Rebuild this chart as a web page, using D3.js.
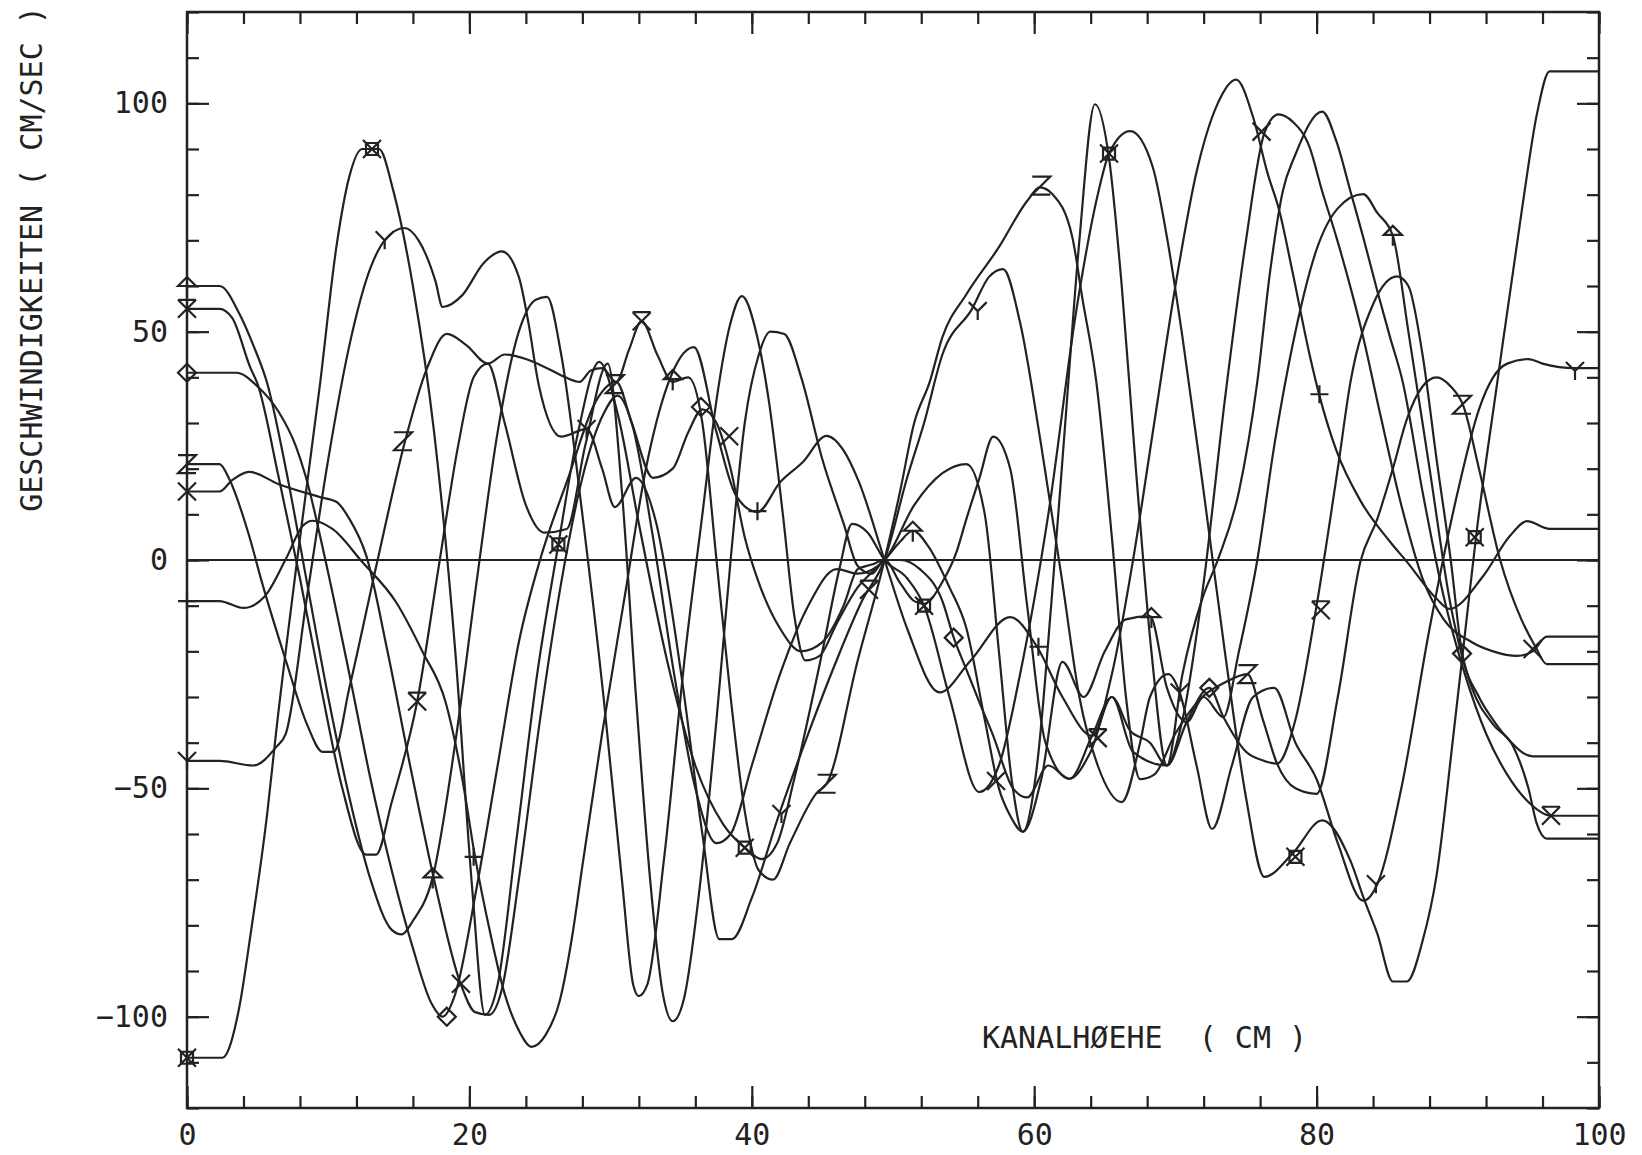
<!DOCTYPE html>
<html>
  <head>
    <meta charset="utf-8">
    <title>Geschwindigkeiten</title>
    <style>
      body { margin: 0; background: #fff; }
      text { font-family: "DejaVu Sans Mono", monospace; fill: #222; }
    </style>
  </head>
  <body>
    <script src="https://cdn.jsdelivr.net/npm/d3@7"></script>
    <script>
      const width = 1642;
      const height = 1155;

      // axis ticks
      const xMinor = d3.range(0, 101, 4);
      const xMajor = [0, 20, 40, 60, 80, 100];
      const yMinor = d3.range(-120, 121, 10);
      const yMajor = [-100, -50, 0, 50, 100];

      // curves: [kanalhoehe, geschwindigkeit]
      const curveSq = [[0,-109],[2.5,-109],[3.7,-98],[4.5,-82],[5.7,-55],[6.3,-38],[7.8,0],[9.4,38],[10.6,69],[11.5,84],[12.4,90],[13.6,90],[14.6,81],[16,60],[17.5,28],[19,-20],[20.2,-72],[21.1,-99.6],[22,-93],[23.3,-62],[24.8,-25],[26.3,3.4],[27.7,28],[29.2,43.4],[30.5,32],[32,8],[34,-22],[36,-45],[38,-58],[39.5,-63],[40.7,-65.5],[41.8,-62],[43,-48],[45,-20],[46.2,-2],[47.1,7.9],[48.2,6],[49.4,0],[51,-4],[52.2,-10],[54,-30],[56.1,-50.8],[57.5,-45],[59,-25],[61,10],[63,55],[64.5,80],[65.3,89],[66.8,93.9],[68.4,86],[69.4,70.7],[70.5,48.8],[72,15],[73.5,-20],[75,-52],[76.3,-69.4],[78.3,-64.3],[80.4,-57],[82.4,-65.9],[83.4,-74.6],[84.3,-81.8],[85.4,-92.3],[86.4,-92.3],[87.5,-83.5],[88.5,-69],[89.7,-38],[90.6,-13.6],[91.3,5.3],[92.8,39],[94.6,78],[95.6,97.6],[96.5,107],[100,107]];
      const curveY = [[0,-44],[2.3,-44],[4.7,-45],[6.3,-41],[7,-38],[8.5,-8],[10,22],[11.5,47],[13,64],[14,70],[15.4,72.7],[16.4,70],[17.6,61],[18.1,55.4],[19.5,58],[21,65],[22.3,67.6],[23.5,62],[24.2,51.6],[24.9,38.5],[26.5,27],[28.3,28.7],[29.4,20],[30.3,11.6],[31.8,18],[33.2,8.5],[35,-25],[36.5,-60],[37.7,-83],[38.6,-83],[40,-74],[41.9,-56],[44,-38],[46,-22],[47.8,-9],[49.4,0],[51,18],[52.2,30],[53.5,45],[55.6,55],[56.8,62],[57.8,63.7],[59,52],[60.5,25],[62,-5],[63.2,-30],[64.5,-45],[66.2,-53],[67.5,-40],[68.2,-30],[69.5,-25],[70.3,-29],[71.5,-45],[72.6,-58.9],[74,-45],[75.5,-30],[77,-28],[78.5,-40],[80,-48],[81.5,-62],[83.3,-74.6],[84.3,-71],[86,-50],[88,-15],[90,15],[91.5,33],[92.5,40],[93.5,43],[95,44],[96,43],[98.3,42],[100,42]];
      const curveZ = [[0,21],[2.3,21],[3,17.7],[4.4,5.3],[5.3,-4.8],[7,-22],[8.5,-36],[9.6,-42],[10.4,-42],[11.5,-28],[13.5,0],[15.4,25.5],[17,42],[18.4,49.5],[19.8,47],[21.3,43],[22.5,45],[24,44],[25.5,42],[26.8,40],[27.8,39],[28.6,41.5],[29.4,42],[30.4,39],[31.3,46],[32.2,52.3],[33.3,45],[34.4,39],[35.5,40],[36.5,30],[37.5,0],[38.5,-30],[39.5,-55],[40.5,-68],[41.5,-70],[42.7,-62],[44.6,-51],[45.3,-49],[47.5,-22],[49.4,0],[50.5,15],[51.5,30],[52.6,39],[53.5,48.8],[55.2,58.2],[57.5,68.5],[59.5,78.6],[60.4,81.6],[61.3,80.1],[62.7,70.7],[63.4,57.5],[64.4,39],[65.5,5],[66.5,-30],[67.5,-48],[68.5,-47],[70,-38],[71.9,-30],[73.4,-27],[75.1,-25],[76.2,-35],[77.2,-44.6],[78.5,-50],[80,-51.2],[81.5,-30],[83.1,-0.4],[84.3,9],[85.4,20],[86.4,30.9],[87.5,38],[88.5,40],[89.5,38],[90.4,33.7],[91.5,20],[93,0],[94.5,-13],[95.5,-19],[96.3,-22.8],[100,-22.8]];
      const curveXbar = [[0,55],[2.3,55],[3.2,53],[4.5,42],[5,38.5],[6.5,18],[8,-4],[9.5,-28],[11,-50],[12.7,-64.5],[13.4,-64.5],[14.5,-53],[16.3,-31],[17.8,-2],[19.2,25],[20.3,40],[21.3,43],[22.5,30],[24,12],[25.3,6],[26.9,6.8],[28.2,25],[29.8,43],[30.8,15],[31.8,-30],[32.8,-70],[33.7,-95],[34.4,-101],[35.2,-96],[36.3,-72],[37.5,-35],[38.5,0],[39.5,30],[40.5,45],[41.3,50],[42.3,49.5],[43.5,40],[45,22],[46.5,8],[47.5,-1.3],[48.5,-3],[49.4,0],[50.5,-5],[51.5,-9],[52.2,-9.6],[53.5,-4.8],[54.5,1.8],[55.2,9],[56.1,17.7],[57.1,27],[58.3,20],[59.5,-10],[60.8,-40],[62.5,-47.9],[64.1,-38.5],[65.5,-30],[67,-42],[69.4,-45],[70.5,-25],[71.9,-8.5],[73,0],[74.5,15],[75.8,39],[76.7,63],[77.6,80.7],[78.5,88.8],[80.4,98.2],[81.4,91.7],[82.4,80.7],[83.3,70.7],[84.3,58.9],[85.2,48.8],[86.1,39],[87.5,15],[89,-8],[90.5,-25],[92,-38],[93.5,-47],[95,-53],[96.6,-56],[100,-56]];
      const curveArrow = [[0,60],[2.3,60],[3.7,54],[4.7,47],[5.7,38.5],[7,20],[8.5,-5],[10,-30],[11.5,-52],[13,-70],[14.5,-81],[15.2,-82],[16,-79],[17.4,-69.5],[19,-40],[20.5,-5],[22,28],[23.5,50],[24.7,57],[25.5,57.6],[26.5,45],[28,10],[29.5,-30],[30.8,-70],[31.6,-93],[32,-95.5],[32.6,-93],[33.8,-65],[35.3,-20],[36.5,10],[37.5,35],[38.5,52],[39.3,57.8],[40.3,50],[41.2,35],[42.2,10],[43,-12],[43.8,-22],[44.8,-21],[46,-14],[47.5,-6],[48.4,-3],[49.4,0],[50.5,4],[51.4,6.4],[52.5,3],[54,-6],[55.2,-15],[56.5,-35],[57.5,-50],[58.3,-56],[59.2,-59.5],[60.5,-48],[62,-22.3],[63.5,-30],[65,-20],[66.5,-13],[68.2,-12.3],[69.4,-28],[70.8,-35.5],[72,-30],[73.4,-34.4],[74.5,-20],[75.8,0],[77,25],[78.5,50],[80,68],[81.5,77],[83.3,80.1],[84.3,76],[85.4,71],[86.5,50],[88,20],[89.5,-10],[91,-28],[92.5,-36],[93.9,-40.7],[95,-50],[95.6,-57.8],[96.3,-61],[100,-61]];
      const curveDiamond = [[0,41],[3.5,41],[5,38],[6.5,32.4],[7.7,25],[8.4,18.4],[9.8,0],[11.5,-25],[13,-48],[14.5,-68],[16,-85],[17.3,-97],[18.1,-100],[19,-95],[20.5,-72],[22,-45],[23.5,-18],[25,0],[27,18],[29,35],[30.4,39],[31.5,30],[33,18],[34.4,20],[35.5,28],[36.5,33],[37.5,30],[38.5,20],[39.5,5],[40.5,-5],[42,-15],[43.5,-20],[45,-18],[46.5,-10],[47.5,-2],[48.5,-1],[49.4,0],[50.5,0],[51.9,-2],[53.5,-9],[54.3,-17],[55.2,-24],[56.1,-31],[57.1,-38.5],[58.5,-50],[59.5,-52],[61,-45],[62.5,-47.9],[64,-42],[65.5,-30],[66.8,-37.4],[68.2,-40],[69.4,-45],[70.8,-35.5],[72.4,-28],[73.4,-34.4],[75,-42],[76.3,-44],[77.2,-44.6],[78.5,-35],[80,-10],[81.5,20],[82.4,39],[84,56],[85.7,62.1],[86.5,60],[87.5,45],[88.5,22],[89.5,0],[90.3,-20.3],[91.5,-30],[92.5,-35],[93.5,-39],[95.3,-43],[100,-43]];
      const curveX = [[0,15],[2.3,15],[3.2,17.5],[4.4,19.3],[6.5,16.6],[9.4,13.8],[10.6,12.7],[11.5,9],[12.7,0.9],[14.2,-20],[15.8,-45],[17.5,-70],[19.4,-93],[20.4,-99],[21.4,-99.6],[22.3,-94],[23.5,-70],[25,-35],[26.5,-5],[28,18],[29.5,32],[30.5,36],[31.5,30],[33,5],[34.5,-25],[36,-50],[37.5,-62],[38.5,-60],[40,-45],[42,-25],[44,-10],[46,-2],[47.5,-3],[49.4,0],[51.5,12],[53.5,19],[55.2,21],[56.5,10],[57.5,-20],[58.4,-48],[59.2,-59.5],[60.2,-45],[61.2,-10],[62.2,30],[63.2,70],[64.3,99.8],[65.3,88],[66.2,60],[67.2,20],[68.3,-20],[69.4,-45],[70.5,-35],[72,-5],[73.5,35],[75,70],[76.3,93.5],[77.3,97.6],[78.3,96],[79.5,90.4],[80.4,80.7],[81.4,70.7],[82.4,59.7],[83.3,48.8],[84.5,32],[86,12],[87.5,-4],[89,-13],[91,-18],[92.5,-20],[94.2,-21],[95.3,-20],[96.3,-16.8],[100,-16.8]];
      const curvePlus = [[0,-9],[2.3,-9],[4,-10.5],[5.5,-8],[7,0.2],[8.2,7.5],[8.9,8.6],[10.3,6.8],[12.4,-0.4],[14.8,-9.2],[16.7,-20.2],[18.3,-31],[19.5,-48],[20.4,-65],[21.5,-82],[22.5,-95],[23.5,-103],[24.4,-106.6],[25.4,-104],[26.4,-96.5],[27.3,-82],[28,-67],[29.4,-38],[31,-8],[32.5,20],[34,38],[35.9,46.6],[37.5,28],[38.9,14],[40.4,10.5],[42,17],[43.6,21.4],[45.3,27.2],[46.5,24],[47.6,17],[49.4,0],[51,-15],[53.3,-29],[55.5,-22],[58.3,-12.5],[60.2,-19],[62,-30],[64.1,-38.5],[65.5,-25],[67,0],[68.5,30],[70,60],[71.5,85],[73,100],[74.3,105.2],[75.5,97],[76.5,85],[77.4,76],[78.3,63],[79.5,45],[80.2,36],[81.4,24],[83.1,13],[85.2,4],[86.4,-0.4],[88.5,-8.5],[89.4,-10.7],[91.8,-3.5],[93.7,5.3],[94.9,8.5],[96.5,6.8],[100,6.8]];

      // plot symbols as drawn on the sheet
      const marksSq = [[0,-109],[13.1,90],[26.3,3.4],[39.5,-63],[52.2,-10],[65.3,89],[78.5,-65],[91.2,5]];
      const marksY = [[0,-44],[14,70],[28.3,28.7],[42.1,-55.6],[56,54.5],[70.3,-29],[84.2,-71],[98.3,41.4]];
      const marksZ = [[0,21],[15.3,26],[30.3,38.5],[45.3,-49],[60.5,82],[75.1,-25],[90.3,34]];
      const marksXbar = [[0,55],[16.3,-31],[32.2,52.3],[48.3,-6.5],[64.5,-39],[80.3,-11],[96.6,-56]];
      const marksArrow = [[0,60],[17.4,-69.5],[34.4,39.6],[51.4,6.4],[68.3,-12.5],[85.4,71.2]];
      const marksDiamond = [[0,41],[18.4,-100],[36.4,33.5],[54.3,-17],[72.4,-28],[90.3,-20.5]];
      const marksX = [[0,15],[19.4,-92.8],[38.4,27.1],[57.3,-48.4],[76.1,93.8],[95.3,-19.5]];
      const marksPlus = [[0,-9],[20.3,-65],[40.4,10.7],[60.3,-19],[80.2,36.3]];

      const svg = d3
        .select('body')
        .append('svg')
        .attr('width', width)
        .attr('height', height);

      const x = d3.scaleLinear().domain([0, 100]).range([187, 1599]);
      const y = d3.scaleLinear().domain([-120, 120]).range([1108, 12]);

      function styleAxis(g) {
        g.select('.domain').remove();
        g.selectAll('.tick line').attr('stroke', '#222').attr('stroke-width', 2.2);
        g.attr('font-size', 30).attr('font-family', '"DejaVu Sans Mono", monospace');
      }

      // ticks point inward on all four sides
      svg.append('g').attr('transform', `translate(0,${y(-120)})`)
        .call(d3.axisBottom(x).tickValues(xMinor).tickSize(-12).tickFormat(''))
        .call(styleAxis);
      svg.append('g').attr('transform', `translate(0,${y(-120)})`)
        .call(d3.axisBottom(x).tickValues(xMajor).tickSize(-22).tickPadding(16).tickFormat(d3.format('d')))
        .call(styleAxis);
      svg.append('g').attr('transform', `translate(0,${y(120)})`)
        .call(d3.axisTop(x).tickValues(xMinor).tickSize(-12).tickFormat(''))
        .call(styleAxis);
      svg.append('g').attr('transform', `translate(0,${y(120)})`)
        .call(d3.axisTop(x).tickValues(xMajor).tickSize(-22).tickFormat(''))
        .call(styleAxis);
      svg.append('g').attr('transform', `translate(${x(0)},0)`)
        .call(d3.axisLeft(y).tickValues(yMinor).tickSize(-12).tickFormat(''))
        .call(styleAxis);
      svg.append('g').attr('transform', `translate(${x(0)},0)`)
        .call(d3.axisLeft(y).tickValues(yMajor).tickSize(-22).tickPadding(19).tickFormat(d3.format('d')))
        .call(styleAxis);
      svg.append('g').attr('transform', `translate(${x(100)},0)`)
        .call(d3.axisRight(y).tickValues(yMinor).tickSize(-12).tickFormat(''))
        .call(styleAxis);
      svg.append('g').attr('transform', `translate(${x(100)},0)`)
        .call(d3.axisRight(y).tickValues(yMajor).tickSize(-22).tickFormat(''))
        .call(styleAxis);

      svg.append('rect')
        .attr('x', x(0)).attr('y', y(120))
        .attr('width', x(100) - x(0)).attr('height', y(-120) - y(120))
        .attr('fill', 'none').attr('stroke', '#222').attr('stroke-width', 2.5);

      svg.append('line')
        .attr('x1', x(0)).attr('x2', x(100))
        .attr('y1', y(0)).attr('y2', y(0))
        .attr('stroke', '#222').attr('stroke-width', 2);

      const line = d3.line()
        .x((d) => x(d[0]))
        .y((d) => y(d[1]))
        .curve(d3.curveMonotoneX);

      const curves = [curveSq, curveY, curveZ, curveXbar, curveArrow, curveDiamond, curveX, curvePlus];
      svg.append('g')
        .selectAll('path')
        .data(curves)
        .enter()
        .append('path')
        .attr('d', line)
        .attr('fill', 'none')
        .attr('stroke', '#222')
        .attr('stroke-width', 2.2)
        .attr('stroke-linejoin', 'round');

      const s = 9;
      const symbols = {
        sq: `M${-6},${-6}H6V6H-6Z M${-s},${-s}L${s},${s} M${s},${-s}L${-s},${s}`,
        y: `M${-s},${-s}L0,0L${s},${-s} M0,0V${s}`,
        z: `M${-s},${-s}H${s}L${-s},${s}H${s}`,
        xbar: `M${-s},${-s}H${s} M${-s},${-s}L${s},${s} M${s},${-s}L${-s},${s}`,
        arrow: `M${-s},0L0,${-s}L${s},0Z M0,0V${s + 2}`,
        diamond: `M0,${-s}L${s},0L0,${s}L${-s},0Z`,
        x: `M${-s},${-s}L${s},${s} M${s},${-s}L${-s},${s}`,
        plus: `M${-s},0H${s} M0,${-s}V${s}`
      };
      const markSets = [
        ['sq', marksSq], ['y', marksY], ['z', marksZ], ['xbar', marksXbar],
        ['arrow', marksArrow], ['diamond', marksDiamond], ['x', marksX], ['plus', marksPlus]
      ];
      markSets.forEach(([sym, pts]) => {
        svg.append('g')
          .selectAll('path')
          .data(pts)
          .enter()
          .append('path')
          .attr('transform', (d) => `translate(${x(d[0])},${y(d[1])})`)
          .attr('d', symbols[sym])
          .attr('fill', 'none')
          .attr('stroke', '#222')
          .attr('stroke-width', 2.2);
      });

      svg.append('text')
        .attr('transform', 'translate(31,259) rotate(-90)')
        .attr('text-anchor', 'middle')
        .attr('dominant-baseline', 'central')
        .attr('font-size', 30)
        .text('GESCHWINDIGKEITEN ( CM/SEC )');

      svg.append('text')
        .attr('x', 982)
        .attr('y', 1048)
        .attr('font-size', 30)
        .style('white-space', 'pre')
        .text('KANALHØEHE  ( CM )');
    </script>
  </body>
</html>
